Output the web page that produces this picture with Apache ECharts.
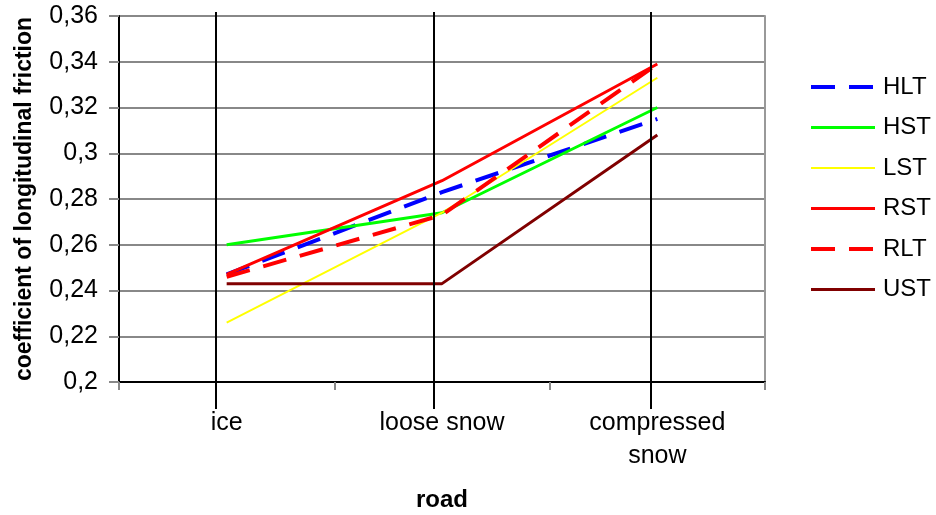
<!DOCTYPE html>
<html>
<head>
<meta charset="utf-8">
<script src="https://cdn.jsdelivr.net/npm/echarts@6/dist/echarts.min.js"></script>
<style>html,body{margin:0;padding:0;background:#fff}#c{width:936px;height:515px}</style>
</head>
<body>
<div id="c"></div>
<script>
const categories = ['ice', 'loose snow', 'compressed\nsnow'];
const HLT = [0.247, 0.283, 0.315];
const HST = [0.260, 0.274, 0.320];
const LST = [0.226, 0.274, 0.333];
const RST = [0.247, 0.288, 0.339];
const RLT = [0.246, 0.273, 0.339];
const UST = [0.243, 0.243, 0.308];
const yMin = 0.2, yMax = 0.36, yStep = 0.02;
// positions (in category index units) of the black drop lines of the original
const dropLineX = [-0.05, 0.965, 1.965];

const FONT = 'Liberation Sans, Arial, sans-serif';
const dash = [24, 14];

function lineSeries(name, data, color, width, type) {
  return {
    name, type: 'line', data, symbol: 'none', z: 3,
    xAxisIndex: 0, yAxisIndex: 0,
    lineStyle: { color, width, type: type || 'solid', cap: 'butt' },
    itemStyle: { color },
    emphasis: { disabled: true }
  };
}

const chart = echarts.init(document.getElementById('c'), null, { renderer: 'canvas' });
chart.setOption({
  animation: false,
  backgroundColor: '#fff',
  textStyle: { fontFamily: FONT },
  grid: [
    { left: 119, right: 171, top: 16, bottom: 133, containLabel: false, outerBoundsMode: 'none' },
    { left: 119, right: 171, top: 12, bottom: 106, containLabel: false, outerBoundsMode: 'none' }
  ],
  legend: {
    orient: 'vertical', left: 809, top: 75, padding: 0,
    itemWidth: 64, itemHeight: 14, itemGap: 16.5,
    itemStyle: { opacity: 0 },
    lineStyle: { width: 'inherit', type: 'inherit' },
    textStyle: { fontSize: 24, color: '#000', fontFamily: FONT, padding: [0, 0, 0, 3] },
    data: ['HLT', 'HST', 'LST', 'RST', 'RLT', 'UST']
  },
  xAxis: [
    {
      type: 'category', data: categories, gridIndex: 0, boundaryGap: true,
      name: 'road', nameLocation: 'middle', nameGap: 106,
      nameTextStyle: { fontSize: 24, fontWeight: 'bold', color: '#000', fontFamily: FONT },
      axisLine: { show: true, lineStyle: { color: '#000', width: 2 } },
      axisTick: { show: true, length: 8, lineStyle: { color: '#888', width: 2 } },
      axisLabel: { fontSize: 25, color: '#000', lineHeight: 33, margin: 25, fontFamily: FONT },
      splitLine: { show: false }
    },
    {
      type: 'value', gridIndex: 1, min: -0.5, max: 2.5, show: false
    }
  ],
  yAxis: [
    {
      type: 'value', gridIndex: 0, min: yMin, max: yMax, interval: yStep,
      name: 'coefficient of longitudinal friction', nameLocation: 'middle', nameRotate: 90, nameGap: 83,
      nameTextStyle: { fontSize: 23, fontWeight: 'bold', color: '#000', fontFamily: FONT },
      axisLine: { show: true, onZero: false, lineStyle: { color: '#000', width: 2 } },
      axisTick: { show: true, length: 10, lineStyle: { color: '#888', width: 2 } },
      axisLabel: {
        fontSize: 25, color: '#000', margin: 21, fontFamily: FONT,
        formatter: v => String(+v.toFixed(2)).replace('.', ',')
      },
      splitLine: { show: true, lineStyle: { color: '#888', width: 2 } }
    },
    {
      type: 'value', gridIndex: 0, position: 'right', min: yMin, max: yMax, interval: yStep,
      axisLine: { show: true, onZero: false, lineStyle: { color: '#999', width: 2 } },
      axisTick: { show: false }, axisLabel: { show: false }, splitLine: { show: false }
    },
    {
      type: 'value', gridIndex: 1, min: 0, max: 1, show: false
    }
  ],
  series: [
    {
      name: 'drop', type: 'line', xAxisIndex: 1, yAxisIndex: 2, data: [], z: 1, silent: true,
      markLine: {
        silent: true, symbol: 'none', animation: false,
        label: { show: false },
        lineStyle: { color: '#000', width: 2, type: 'solid' },
        data: dropLineX.map(x => ({ xAxis: x }))
      }
    },
    lineSeries('HLT', HLT, '#0000FF', 4, dash),
    lineSeries('HST', HST, '#00FF00', 3),
    lineSeries('LST', LST, '#FFFF00', 2),
    lineSeries('RST', RST, '#FF0000', 3),
    lineSeries('RLT', RLT, '#FF0000', 4, dash),
    lineSeries('UST', UST, '#800000', 3)
  ]
});
</script>
</body>
</html>
